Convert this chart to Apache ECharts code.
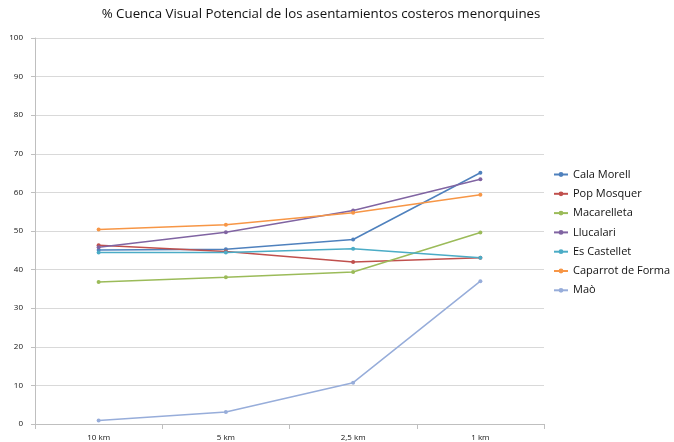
<!DOCTYPE html>
<html>
<head>
<meta charset="utf-8">
<script src="https://cdn.jsdelivr.net/npm/echarts@6/dist/echarts.min.js"></script>
<style>
html,body{margin:0;padding:0;background:#fff;}
#chart{width:674px;height:442px;}
</style>
</head>
<body>
<div id="chart"></div>
<script>
// distancias (eje x)
var categorias = ['10 km', '5 km', '2,5 km', '1 km'];

// % cuenca visual por asentamiento
var nombres = ['Cala Morell', 'Pop Mosquer', 'Macarelleta', 'Llucalari', 'Es Castellet', 'Caparrot de Forma', 'Maò'];
var calaMorell = [45.1, 45.3, 47.8, 65.1];
var popMosquer = [46.3, 44.7, 42.0, 43.1];
var macarelleta = [36.8, 38.0, 39.4, 49.6];
var llucalari = [45.8, 49.7, 55.3, 63.4];
var esCastellet = [44.4, 44.4, 45.4, 43.1];
var caparrot = [50.4, 51.6, 54.7, 59.4];
var mao = [0.9, 3.1, 10.7, 37.0];

var colores = ['#4F81BD', '#C0504D', '#9BBB59', '#8064A2', '#4BACC6', '#F79646', '#97ADDA'];
var valores = [calaMorell, popMosquer, macarelleta, llucalari, esCastellet, caparrot, mao];

var fuente = '"Open Sans", "Liberation Sans", sans-serif';

var myChart = echarts.init(document.getElementById('chart'));

var series = [];
for (var i = 0; i < nombres.length; i++) {
    series.push({
        name: nombres[i],
        type: 'line',
        data: valores[i],
        symbol: 'circle',
        symbolSize: 4,
        lineStyle: {width: 1.5, color: colores[i]},
        itemStyle: {color: colores[i]},
        emphasis: {disabled: true}
    });
}

var option = {
    animation: false,
    color: colores,
    title: {
        text: '% Cuenca Visual Potencial de los asentamientos costeros menorquines',
        left: 316,
        textAlign: 'center',
        top: 3,
        textStyle: {fontFamily: fuente, fontSize: 13.3, fontWeight: 'normal', color: '#111'}
    },
    legend: {
        orient: 'vertical',
        left: 548,
        top: 164,
        itemWidth: 14,
        itemHeight: 6,
        itemGap: 8.3,
        data: nombres,
        textStyle: {fontFamily: fuente, fontSize: 11, color: '#111'}
    },
    grid: {left: 35, right: 130, top: 38, bottom: 18, containLabel: false},
    xAxis: {
        type: 'category',
        data: categorias,
        boundaryGap: true,
        axisLine: {lineStyle: {color: '#bfbfbf'}},
        axisTick: {show: true, length: 5, lineStyle: {color: '#bfbfbf'}},
        axisLabel: {fontFamily: fuente, fontSize: 8, color: '#111', margin: 10}
    },
    yAxis: {
        type: 'value',
        min: 0,
        max: 100,
        interval: 10,
        axisLine: {show: true, lineStyle: {color: '#bfbfbf'}},
        axisTick: {show: true, length: 4, lineStyle: {color: '#bfbfbf'}},
        axisLabel: {fontFamily: fuente, fontSize: 8, color: '#111', margin: 12},
        splitLine: {lineStyle: {color: '#d9d9d9', width: 1}}
    },
    series: series
};
myChart.setOption(option);
</script>
</body>
</html>
